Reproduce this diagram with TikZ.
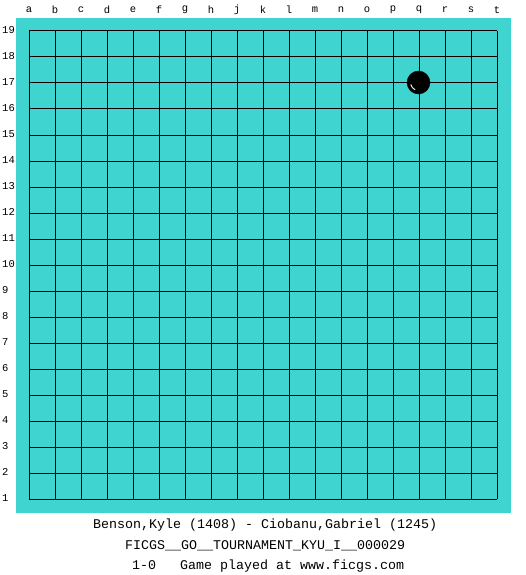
\documentclass[tikz,border=0pt]{standalone}
\usepackage{fontspec}
\setmonofont{Liberation Mono}
\definecolor{boardcol}{RGB}{64,212,208}
\begin{document}
\begin{tikzpicture}[x=1pt,y=-1pt,
  gridline/.style={black,line width=1pt},
  coordlabel/.style={font=\ttfamily\fontsize{10.5}{12}\selectfont,inner sep=0pt},
  infotext/.style={font=\ttfamily\fontsize{13.33}{15}\selectfont,inner sep=0pt,anchor=base west},
  stone/.style={fill=black,draw=black}]
\useasboundingbox (0,0) rectangle (525,575);
\fill[white] (0,0) rectangle (525,575);
\fill[boardcol] (16,18) rectangle (511,513);
\foreach \i in {0,...,18}{
  \draw[gridline] (29+26*\i,31) -- (29+26*\i,499);
  \draw[gridline] (29,31+26*\i) -- (497,31+26*\i);
}
\foreach \l [count=\i from 0] in {a,b,c,d,e,f,g,h,j,k,l,m,n,o,p,q,r,s,t}{
  \node[coordlabel] (col\l) at (29+26*\i,10) {\l};
}
\foreach \n [count=\i from 0] in {19,18,...,1}{
  \node[coordlabel,anchor=west] (row\n) at (2,30+26*\i) {\n};
}
\node[stone,circle,minimum size=23pt,inner sep=0pt] (q17) at (418.5,82.5) {};
\draw[white,line width=0.9pt] (q17.center) ++(165:8) arc[start angle=165,end angle=115,radius=8];
\node[infotext] (players) at (93,528) {Benson,Kyle (1408) - Ciobanu,Gabriel (1245)};
\node[infotext] (event) at (125,549) {FICGS\_\_GO\_\_TOURNAMENT\_KYU\_I\_\_000029};
\node[infotext] (result) at (132,569) {1-0\ \ \ Game played at www.ficgs.com};
\end{tikzpicture}
\end{document}
